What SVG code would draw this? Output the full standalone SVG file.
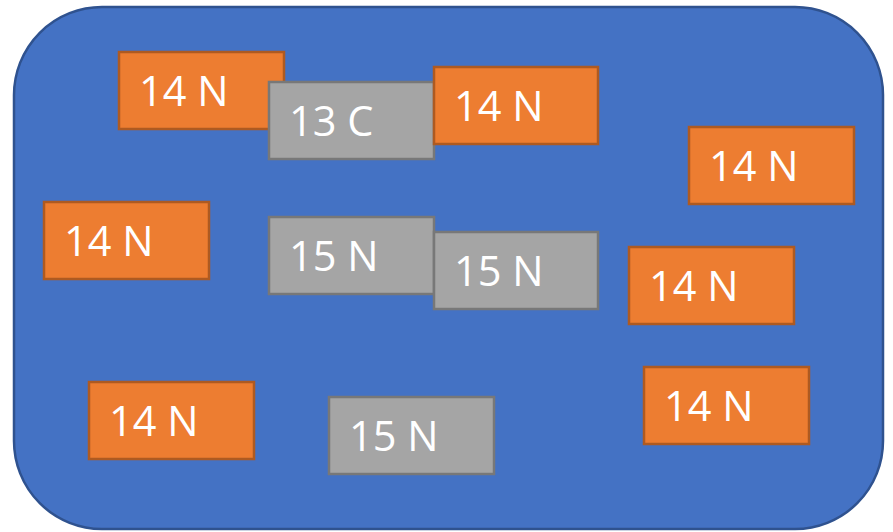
<svg xmlns="http://www.w3.org/2000/svg" width="893" height="532" viewBox="0 0 893 532">
<style>
.o{fill:#ED7D31;stroke:#AE5A21;stroke-width:2.5}
.g{fill:#A5A5A5;stroke:#787878;stroke-width:2.5}
text{font-family:"Open Sans","Liberation Sans",sans-serif;font-size:41.5px;fill:#FFFFFF}
</style>
<rect x="14" y="7" width="869" height="522" rx="88" ry="88" fill="#4472C4" stroke="#2F528F" stroke-width="2.5"/>
<g id="n14a"><rect class="o" x="119" y="52" width="165" height="77"/><text x="139" y="106">14 N</text></g>
<g id="c13"><rect class="g" x="269" y="82" width="165" height="77"/><text x="289" y="136">13 C</text></g>
<g id="n14b"><rect class="o" x="434" y="67" width="164" height="77"/><text x="454" y="121">14 N</text></g>
<g id="n14c"><rect class="o" x="689" y="127" width="165" height="77"/><text x="709" y="181">14 N</text></g>
<g id="n14d"><rect class="o" x="44" y="202" width="165" height="77"/><text x="64" y="256">14 N</text></g>
<g id="n15a"><rect class="g" x="269" y="217" width="165" height="77"/><text x="289" y="271">15 N</text></g>
<g id="n15b"><rect class="g" x="434" y="232" width="164" height="77"/><text x="454" y="286">15 N</text></g>
<g id="n14e"><rect class="o" x="629" y="247" width="165" height="77"/><text x="649" y="301">14 N</text></g>
<g id="n14f"><rect class="o" x="89" y="382" width="165" height="77"/><text x="109" y="436">14 N</text></g>
<g id="n15c"><rect class="g" x="329" y="397" width="165" height="77"/><text x="349" y="451">15 N</text></g>
<g id="n14g"><rect class="o" x="644" y="367" width="165" height="77"/><text x="664" y="421">14 N</text></g>
<g id="connectors"></g>
</svg>
